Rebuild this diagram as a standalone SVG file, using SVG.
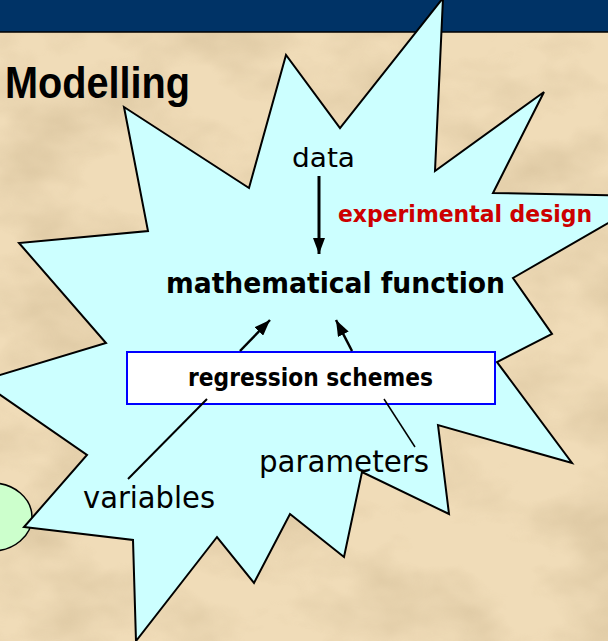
<svg xmlns="http://www.w3.org/2000/svg" width="608" height="641" viewBox="0 0 608 641">
  <defs>
    <style>
      .star { fill: #ccffff; stroke: #000; stroke-width: 2; stroke-linejoin: miter; }
      .conn { stroke: #000; fill: none; }
      .lbl { font-family: "DejaVu Sans Condensed", "DejaVu Sans", sans-serif; fill: #000; }
      .bold { font-weight: bold; }
    </style>
    <marker id="arr" viewBox="0 0 16 12" refX="16" refY="6" markerWidth="16" markerHeight="12" markerUnits="userSpaceOnUse" orient="auto">
      <path d="M0,0 L16,6 L0,12 Z" fill="#000"/>
    </marker>
    <filter id="parch" x="0" y="0" width="100%" height="100%">
      <feTurbulence type="fractalNoise" baseFrequency="0.009 0.014" numOctaves="4" seed="7"/>
      <feColorMatrix type="matrix" values="0 0 0 0 0.55  0 0 0 0 0.42  0 0 0 0 0.24  1.8 0 0 0 -0.75"/>
    </filter>
  </defs>

  <!-- background -->
  <rect x="0" y="0" width="608" height="641" fill="#f0dcb8"/>
  <rect x="0" y="0" width="608" height="641" filter="url(#parch)" opacity="0.55"/>

  <!-- header bar -->
  <rect x="0" y="0" width="608" height="32" fill="#003366"/>
  <line x1="0" y1="32" x2="608" y2="32" stroke="#000" stroke-width="1.5"/>

  <!-- title -->
  <text x="5" y="98" font-family="'Liberation Sans', Arial, sans-serif" font-weight="bold" font-size="44" textLength="185" lengthAdjust="spacingAndGlyphs" fill="#000">Modelling</text>

  <!-- green ellipse (partial) -->
  <g id="ellipse">
    <ellipse cx="-8" cy="517" rx="40" ry="34" fill="#ccffcc" stroke="#000" stroke-width="1.5"/>
  </g>

  <!-- star -->
  <g id="star">
    <polygon class="star" points="443,-2 435,171 544,92 493,193 655,196 513,278 552,334 497,362 572,463 438,425 449,514 362,472 344,557 290,514 254,583 217,537 136,641 133,540 24,527 87,455 -20,381 106,343 19,243 148,231 124,107 249,188 286,55 340,128"/>
  </g>

  <!-- regression box -->
  <g id="regression">
    <rect x="127" y="352" width="368" height="52" fill="#fff" stroke="#0000ff" stroke-width="2"/>
    <text class="lbl bold" x="188" y="386" font-size="24" textLength="245" lengthAdjust="spacingAndGlyphs">regression schemes</text>
  </g>

  <!-- connectors -->
  <g id="connectors">
    <line class="conn" x1="319" y1="176" x2="319" y2="254" stroke-width="3" marker-end="url(#arr)"/>
    <line class="conn" x1="240" y1="351" x2="270" y2="320" stroke-width="2.5" marker-end="url(#arr)"/>
    <line class="conn" x1="352" y1="351" x2="336" y2="320" stroke-width="2.5" marker-end="url(#arr)"/>
    <line class="conn" x1="207" y1="399" x2="128" y2="479" stroke-width="2"/>
    <line class="conn" x1="384" y1="399" x2="415" y2="447" stroke-width="1.5"/>
  </g>

  <!-- labels -->
  <g id="data">
    <text class="lbl" x="292" y="167" font-size="26" textLength="63" lengthAdjust="spacingAndGlyphs">data</text>
  </g>
  <g id="experimental-design">
    <text class="lbl bold" x="338" y="222" font-size="23" style="fill:#cc0000" textLength="254" lengthAdjust="spacingAndGlyphs">experimental design</text>
  </g>
  <g id="mathematical-function">
    <text class="lbl bold" x="166" y="293" font-size="28" textLength="339" lengthAdjust="spacingAndGlyphs">mathematical function</text>
  </g>
  <g id="parameters">
    <text class="lbl" x="259" y="472" font-size="30" textLength="170" lengthAdjust="spacingAndGlyphs">parameters</text>
  </g>
  <g id="variables">
    <text class="lbl" x="83" y="508" font-size="31" textLength="132" lengthAdjust="spacingAndGlyphs">variables</text>
  </g>
</svg>
